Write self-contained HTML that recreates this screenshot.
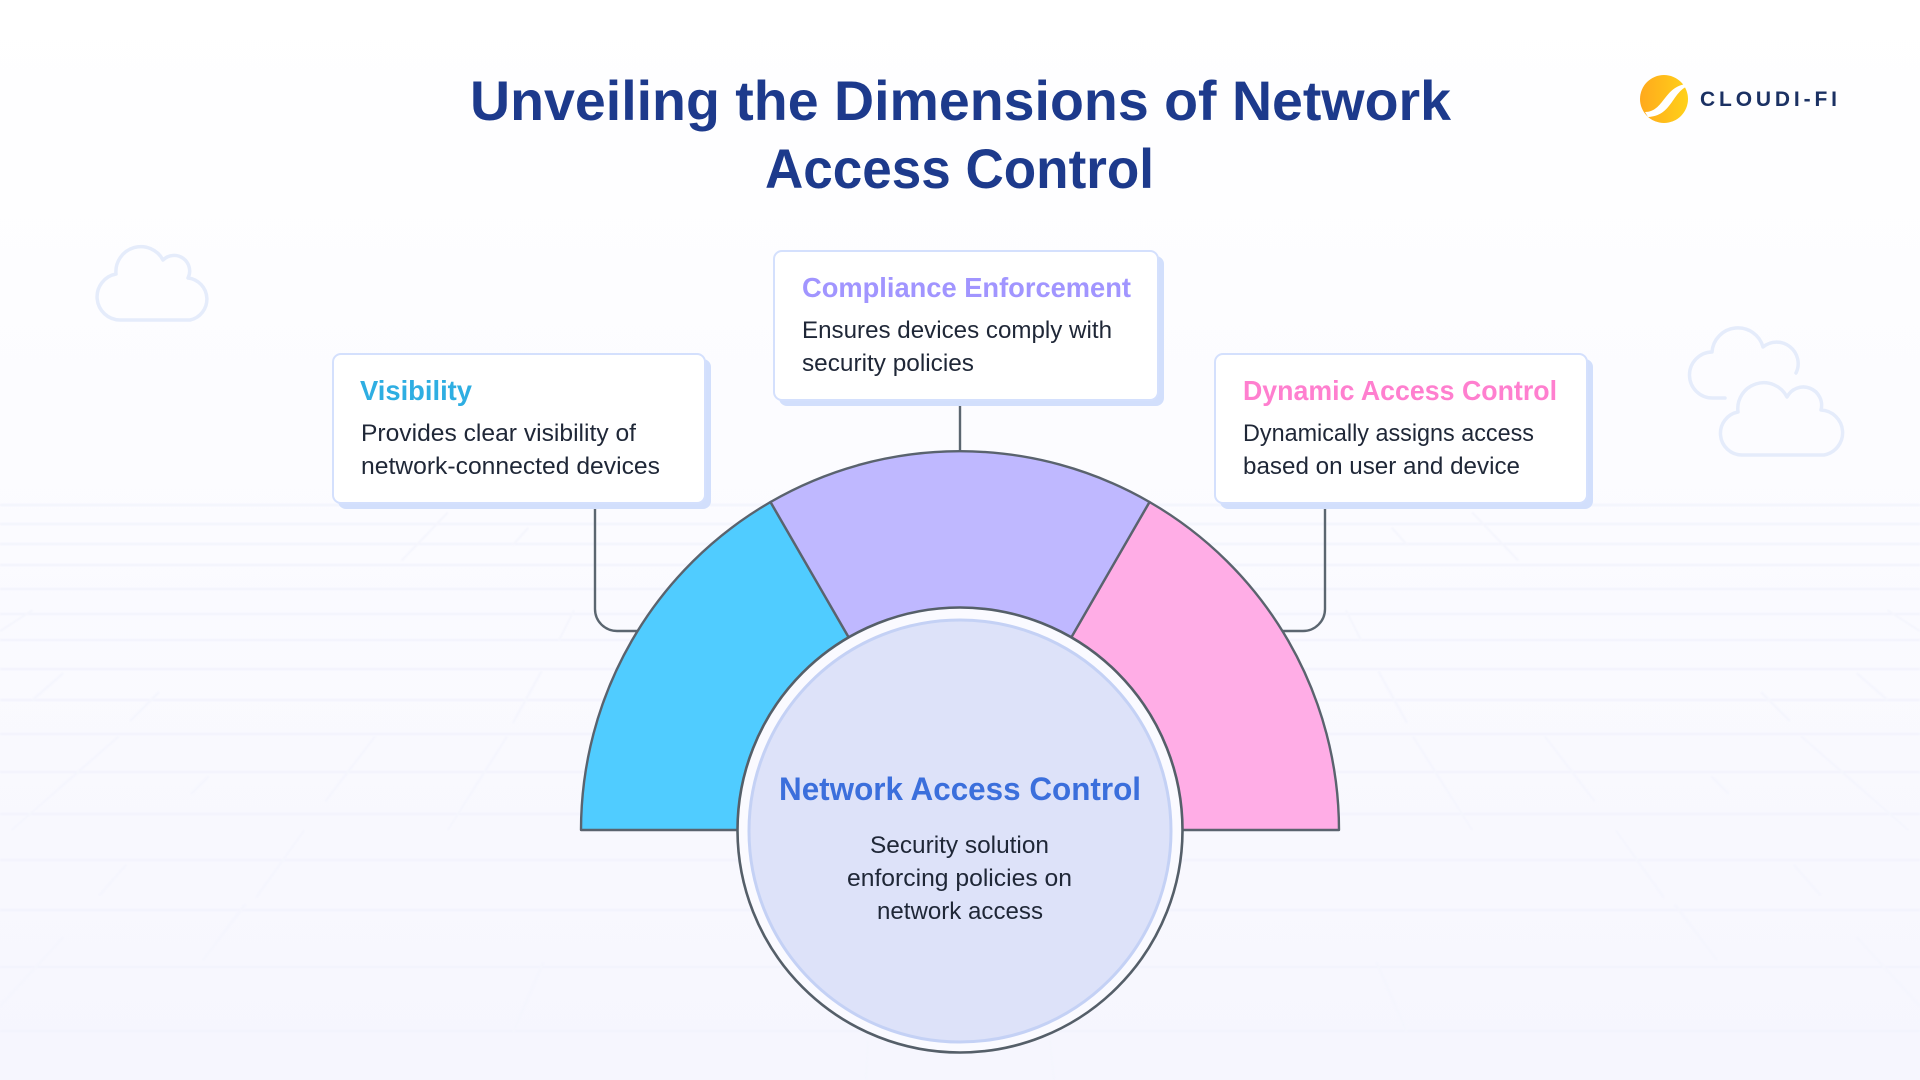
<!DOCTYPE html>
<html lang="en">
<head>
<meta charset="utf-8">
<title>Unveiling the Dimensions of Network Access Control</title>
<style>
html,body{margin:0;padding:0;width:1920px;height:1080px;overflow:hidden;background:#fff}
svg{display:block}
text{font-family:"Liberation Sans",sans-serif}
.b{font-weight:700}
.d{font-size:24px;fill:#1f2737}
.c{fill:none;stroke:#e5ecfb;stroke-width:3.5;stroke-linecap:round;stroke-linejoin:round}
</style>
</head>
<body>
<svg width="1920" height="1080" viewBox="0 0 1920 1080" xmlns="http://www.w3.org/2000/svg">
<defs>
<linearGradient id="bg" x1="0" y1="0" x2="0" y2="1">
<stop offset="0" stop-color="#ffffff"/>
<stop offset="0.4" stop-color="#fcfcff"/>
<stop offset="1" stop-color="#f6f6fe"/>
</linearGradient>
<linearGradient id="sun" x1="0" y1="0" x2="1" y2="0">
<stop offset="0" stop-color="#ffa91c"/>
<stop offset="1" stop-color="#ffd11a"/>
</linearGradient>
<filter id="soft" x="-5%" y="-5%" width="110%" height="110%"><feGaussianBlur stdDeviation="0.7"/></filter>
</defs>
<rect width="1920" height="1080" fill="url(#bg)"/>

<g filter="url(#soft)">
<g stroke="#f2f3fd" stroke-width="2" fill="none">
<path d="M0 505H1920M0 524H1920M0 544H1920M0 565H1920M0 589H1920M0 614H1920M0 640H1920M0 669H1920M0 700H1920M0 734H1920M0 772H1920M0 814H1920M0 860H1920M0 910H1920M0 967H1920M0 1031H1920"/>
</g>
<g transform="translate(0,480) scale(0.3827)" stroke="#f4f5fd" stroke-width="5" fill="none">
<path d="M1170 85L1050 210M1380 125L1340 170M85 340L0 395M165 505L85 575M415 555L340 630M310 670L30 915M545 775L500 820M980 670L850 840M1325 670L1170 915M1500 340L1460 420M1415 500L1340 635M795 915L670 1090M330 1005L260 1085M640 1110L530 1255M165 1195L0 1375M1420 1260L1340 1445"/>
</g>
<g transform="translate(1920,480) scale(-0.3827,0.3827)" stroke="#f4f5fd" stroke-width="5" fill="none">
<path d="M1170 85L1050 210M1380 125L1340 170M85 340L0 395M165 505L85 575M415 555L340 630M310 670L30 915M545 775L500 820M980 670L850 840M1325 670L1170 915M1500 340L1460 420M1415 500L1340 635M795 915L670 1090M330 1005L260 1085M640 1110L530 1255M165 1195L0 1375M1420 1260L1340 1445"/>
</g>
<path d="M868 1040L866 1080M1050 1040L1054 1080" stroke="#f4f5fd" stroke-width="2" fill="none"/>
</g>

<!-- clouds -->
<path class="c" d="M120 320A23.2 23.2 0 0 1 116 274A25 25 0 0 1 163 260A15.6 15.6 0 0 1 188 278A21.3 21.3 0 0 1 190 320Z"/>
<path class="c" d="M1725 398H1713A23 23 0 0 1 1712 352A26 26 0 0 1 1763 347A21.5 21.5 0 0 1 1796 373"/>
<path class="c" d="M1742 455A21.7 21.7 0 0 1 1738 412A26 26 0 0 1 1787 397A18.3 18.3 0 0 1 1821 410A22.7 22.7 0 0 1 1824 455Z"/>

<!-- title -->
<text class="b" x="470" y="120" font-size="56" fill="#1d3a8c" textLength="981" lengthAdjust="spacingAndGlyphs">Unveiling the Dimensions of Network</text>
<text class="b" x="765" y="188" font-size="56" fill="#1d3a8c" textLength="389" lengthAdjust="spacingAndGlyphs">Access Control</text>

<!-- logo -->
<circle cx="1664" cy="99" r="24" fill="url(#sun)"/>
<path d="M1645 112C1664 112 1664 86 1687 84L1688 86C1672 92 1672 116 1648 117Z" fill="#fff"/>
<text class="b" x="1700" y="106" font-size="21" fill="#1b3163" textLength="137" lengthAdjust="spacing">CLOUDI-FI</text>

<!-- connectors -->
<g fill="none" stroke="#5b6670" stroke-width="2.4">
<path d="M595 503V609A22 22 0 0 0 617 631H645"/>
<path d="M1325 503V609A22 22 0 0 1 1303 631H1275"/>
<path d="M960 400V452"/>
</g>

<!-- fan -->
<g stroke="#5a636e" stroke-width="2.4" stroke-linejoin="round">
<path d="M581 830A379 379 0 0 1 770.5 502L960 830Z" fill="#50ccff"/>
<path d="M1339 830A379 379 0 0 0 1149.5 502L960 830Z" fill="#ffade6"/>
<path d="M770.5 502A379 379 0 0 1 1149.5 502L960 830Z" fill="#bfb8ff"/>
</g>

<!-- center circle -->
<circle cx="960" cy="830" r="222.5" fill="#fafaff" stroke="#555f69" stroke-width="2.6"/>
<circle cx="960" cy="831" r="211" fill="#dde2f9" stroke="#c4d1f5" stroke-width="3"/>
<text class="b" x="779" y="800" font-size="32" fill="#3b6fdc" textLength="362" lengthAdjust="spacingAndGlyphs">Network Access Control</text>
<text class="d" x="870" y="853" textLength="179" lengthAdjust="spacingAndGlyphs">Security solution</text>
<text class="d" x="847" y="886" textLength="225" lengthAdjust="spacingAndGlyphs">enforcing policies on</text>
<text class="d" x="877" y="919" textLength="166" lengthAdjust="spacingAndGlyphs">network access</text>

<!-- cards -->
<g>
<rect x="338" y="359" width="373" height="150" rx="8" fill="#d2dffc"/>
<rect x="333" y="354" width="372" height="149" rx="8" fill="#fff" stroke="#d4e0fd" stroke-width="2"/>
<text class="b" x="360" y="400" font-size="28" fill="#2eaee2" textLength="112" lengthAdjust="spacingAndGlyphs">Visibility</text>
<text class="d" x="361" y="441" textLength="275" lengthAdjust="spacingAndGlyphs">Provides clear visibility of</text>
<text class="d" x="361" y="474" textLength="299" lengthAdjust="spacingAndGlyphs">network-connected devices</text>
</g>
<g>
<rect x="779" y="256" width="385" height="150" rx="8" fill="#d2dffc"/>
<rect x="774" y="251" width="384" height="149" rx="8" fill="#fff" stroke="#d4e0fd" stroke-width="2"/>
<text class="b" x="802" y="297" font-size="28" fill="#a195ff" textLength="329" lengthAdjust="spacingAndGlyphs">Compliance Enforcement</text>
<text class="d" x="802" y="338" textLength="310" lengthAdjust="spacingAndGlyphs">Ensures devices comply with</text>
<text class="d" x="802" y="371" textLength="172" lengthAdjust="spacingAndGlyphs">security policies</text>
</g>
<g>
<rect x="1220" y="359" width="373" height="150" rx="8" fill="#d2dffc"/>
<rect x="1215" y="354" width="372" height="149" rx="8" fill="#fff" stroke="#d4e0fd" stroke-width="2"/>
<text class="b" x="1243" y="400" font-size="28" fill="#ff7fcf" textLength="314" lengthAdjust="spacingAndGlyphs">Dynamic Access Control</text>
<text class="d" x="1243" y="441" textLength="291" lengthAdjust="spacingAndGlyphs">Dynamically assigns access</text>
<text class="d" x="1243" y="474" textLength="277" lengthAdjust="spacingAndGlyphs">based on user and device</text>
</g>
</svg>
</body>
</html>
